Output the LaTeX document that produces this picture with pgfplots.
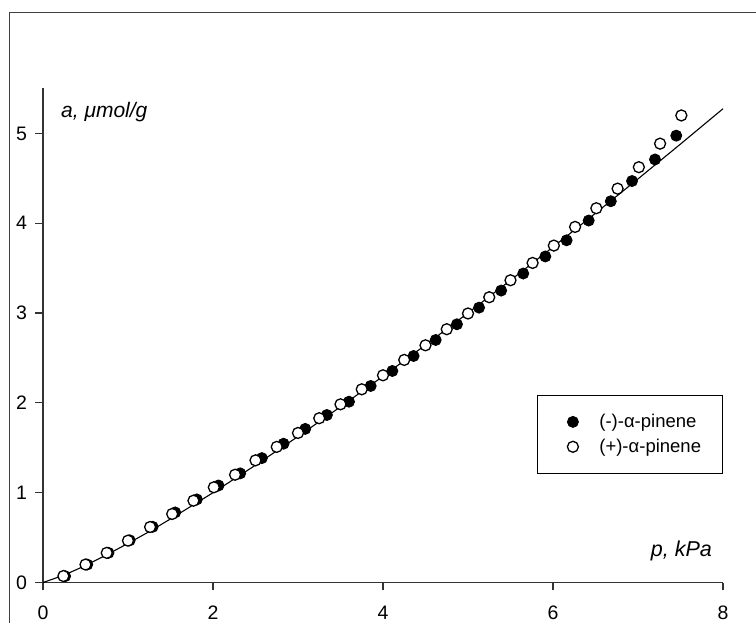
\documentclass[border=0pt]{standalone}
\usepackage{fontspec}
\setmainfont{Liberation Sans}
\usepackage{pgfplots}
\pgfplotsset{compat=1.18}

% adsorption isotherm: fitted curve
\pgfplotstableread{
p      a
0      0
0.25   0.0824
0.5    0.1894
0.75   0.3089
1.0    0.4350
1.25   0.5667
1.5    0.7077
2.0    0.9994
2.5    1.3062
3.0    1.6257
3.5    1.9560
4.0    2.2960
4.5    2.6445
5.0    3.0009
5.5    3.3646
6.0    3.7348
6.5    4.1111
7.0    4.4934
7.5    4.8814
8.0    5.2747
}\fitcurve

% (-)-alpha-pinene
\pgfplotstableread{
p      a
0.26   0.07
0.52   0.20
0.77   0.33
1.02   0.47
1.29   0.62
1.555  0.78
1.81   0.925
2.065  1.08
2.32   1.215
2.575  1.385
2.83   1.545
3.085  1.71
3.34   1.865
3.60   2.013
3.855  2.188
4.11   2.355
4.36   2.522
4.62   2.700
4.87   2.875
5.13   3.060
5.39   3.250
5.65   3.440
5.91   3.630
6.16   3.810
6.42   4.030
6.68   4.245
6.93   4.470
7.20   4.710
7.45   4.975
}\minus

% (+)-alpha-pinene
\pgfplotstableread{
p      a
0.24   0.072
0.50   0.200
0.75   0.330
1.00   0.466
1.26   0.618
1.52   0.763
1.77   0.911
2.01   1.060
2.26   1.200
2.50   1.360
2.75   1.510
3.00   1.665
3.25   1.829
3.50   1.984
3.75   2.151
4.00   2.307
4.25   2.478
4.50   2.641
4.75   2.820
5.00   2.995
5.25   3.176
5.50   3.365
5.76   3.558
6.01   3.751
6.26   3.959
6.51   4.167
6.76   4.385
7.01   4.624
7.26   4.886
7.51   5.200
}\plus

\begin{document}
\begin{tikzpicture}
\begin{axis}[
  at={(0pt,0pt)}, anchor=south west,
  scale only axis,
  width=680pt, height=494pt,
  xmin=0, xmax=8, ymin=0, ymax=5.5,
  axis x line*=bottom, axis y line*=left,
  axis line style={black!80, line width=1.3pt},
  xtick={0,2,4,6,8}, ytick={0,1,2,3,4,5},
  tick align=outside,
  major tick length=7.5pt,
  tick style={black!80, line width=1.2pt},
  /pgf/number format/assume math mode=true,
  tick label style={font=\fontsize{19.5}{22}\selectfont},
  xticklabel style={inner sep=0pt, yshift=-15.5pt},
  yticklabel style={xshift=-5pt},
  clip=false,
  legend style={
    at={(0.7265,0.3796)}, anchor=north west,
    draw=black, line width=0.9pt,
    font=\fontsize{18.5}{21}\selectfont,
    inner xsep=19pt, inner ysep=17pt,
    row sep=6pt,
    /tikz/every odd column/.append style={column sep=0pt},
  },
  legend image code/.code={
    \path (-16pt,0pt) (24pt,0pt);
    \draw[#1] plot coordinates {(0pt,0pt)};
  },
  legend cell align=left,
]
\addplot[black, line width=1.1pt] table[x=p, y=a] {\fitcurve};
\addplot[only marks, mark=*, mark size=5.5pt,
  mark options={draw=black, fill=black, line width=0.9pt}]
  table[x=p, y=a] {\minus};
\addplot[only marks, mark=*, mark size=5.5pt,
  mark options={draw=black, fill=white, line width=1.3pt}]
  table[x=p, y=a] {\plus};
\legend{,(-)-α-pinene,(+)-α-pinene}

\node[anchor=base west, inner sep=0pt, font=\fontsize{21}{24}\selectfont\itshape]
  at (axis cs:0.212,5.173) {a, μmol/g};
\node[anchor=base east, inner sep=0pt, font=\fontsize{21.5}{24}\selectfont\itshape]
  at (axis cs:7.871,0.287) {p, kPa};
\end{axis}
% outer frame, partly outside the page
\draw[black!75, line width=1.6pt] (-33.5pt,-60pt) -- (-33.5pt,570pt) -- (760pt,570pt);
\pgfresetboundingbox
\useasboundingbox (-43pt,-39.5pt) rectangle (713pt,582.5pt);
\end{tikzpicture}
\end{document}
